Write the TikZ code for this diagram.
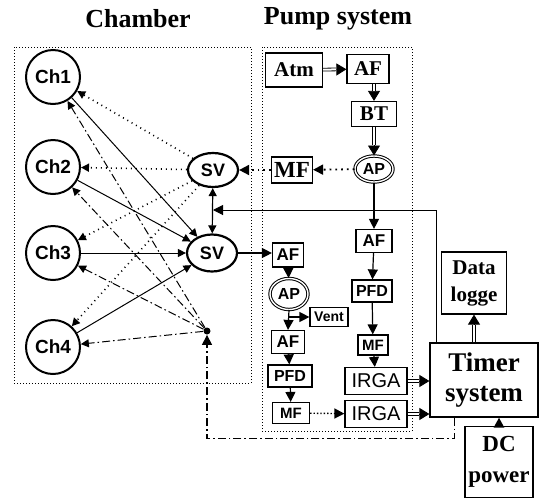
\documentclass[tikz,border=0pt]{standalone}
\usepackage{fontspec}
\setmainfont{Liberation Serif}
\setsansfont{Liberation Sans}
\usetikzlibrary{arrows.meta,shapes.geometric}

\begin{document}
\begin{tikzpicture}[x=0.5pt, y=-0.5pt, >={Triangle[length=5pt,width=5pt]},
	frame/.style={draw, densely dotted, line width=0.5pt},
	title/.style={font=\bfseries\fontsize{13}{14}\selectfont},
	chamber/.style={draw, circle, line width=1pt, minimum size=27pt, inner sep=0pt, font=\sffamily\bfseries\fontsize{9.5}{10}\selectfont},
	valve/.style={draw, ellipse, line width=1.1pt, minimum width=25pt, minimum height=17pt, inner sep=0pt, font=\sffamily\bfseries\fontsize{9}{10}\selectfont},
	pump/.style={draw, ellipse, double, double distance=0.7pt, line width=0.5pt, minimum width=18pt, minimum height=13pt, inner sep=0pt, font=\sffamily\bfseries\fontsize{8}{9}\selectfont},
	sbox/.style={draw, line width=0.6pt, inner sep=1pt, font=\sffamily\bfseries\fontsize{8.5}{9}\selectfont},
	rbox/.style={draw, line width=0.6pt, inner sep=1pt, font=\bfseries\fontsize{10.5}{11}\selectfont},
	irga/.style={draw, line width=0.6pt, inner sep=1pt, minimum width=31pt, minimum height=13.5pt, font=\sffamily\fontsize{10}{11}\selectfont},
	bigbox/.style={draw, line width=0.6pt, inner sep=1pt, align=center},
	junction/.style={circle, fill, inner sep=0pt, minimum size=3.5pt},
	flow/.style={->, line width=0.6pt},
	dbl/.style={postaction={draw, line width=0.4pt, -{Triangle[length=5pt,width=6pt]}},
		postaction={draw, double, double distance=1pt, line width=0.4pt, shorten >=5.2pt}},
	dotflow/.style={->, dotted, line width=0.9pt},
	wire/.style={->, line width=0.5pt},
	ctrl/.style={->, line width=0.6pt, dash pattern=on 4pt off 1.5pt on 0.8pt off 1.5pt},
	link/.style={-{Triangle[length=4pt,width=4pt]}, line width=0.5pt}]
	
	\useasboundingbox (0,0) rectangle (546,499);
	
	% 标题
	\node[title] (tch) at (138,19) {Chamber};
	\node[title] (tps) at (338,19) {Pump system};
	
	% 外框
	\draw[frame] (14,47) rectangle (251,383);
	\draw[frame] (262,47) rectangle (412,431);
	
	% 腔室与阀门
	\foreach \n/\y in {1/77, 2/167, 3/253, 4/347} {
		\node[chamber] (ch\n) at (53,\y) {Ch\n};
	}
	\node[valve] (sv1) at (213,170) {SV};
	\node[valve, minimum height=18.5pt] (sv2) at (212,253) {SV};
	\node[junction] (dot) at (207,331) {};
	
	% 泵系统（上）
	\node[rbox, minimum width=28.5pt, minimum height=17pt] (atm) at (294,70) {Atm};
	\node[rbox, minimum width=21pt, minimum height=14.5pt] (afA) at (368,69) {AF};
	\node[rbox, minimum width=22.5pt, minimum height=12.5pt] (bt) at (374,114) {BT};
	\node[pump, minimum width=19pt] (apA) at (374,169) {AP};
	\node[rbox, minimum width=20.5pt, minimum height=13pt, font=\bfseries\fontsize{11.5}{12}\selectfont] (mfA) at (292,170) {MF};
	
	% 泵系统（右列）
	\node[sbox, minimum width=18pt, minimum height=11.5pt] (afB) at (374,241) {AF};
	\node[sbox, minimum width=20pt, minimum height=11pt, font=\sffamily\bfseries\fontsize{8}{9}\selectfont] (pfdB) at (372,291) {PFD};
	\node[sbox, minimum width=15pt, minimum height=10pt, font=\sffamily\bfseries\fontsize{7.5}{8}\selectfont] (mfB) at (373,345) {MF};
	\node[irga] (irgaB) at (376,381) {IRGA};
	
	% 泵系统（左列）
	\node[sbox, minimum width=15.5pt, minimum height=12pt] (afC) at (288,255) {AF};
	\node[pump, minimum width=19pt, minimum height=15.5pt] (apC) at (289,294) {AP};
	\node[sbox, minimum width=19pt, minimum height=9.5pt, font=\sffamily\bfseries\fontsize{7}{8}\selectfont] (vent) at (329,317) {Vent};
	\node[sbox, minimum width=16.5pt, minimum height=11.5pt] (afD) at (288,342) {AF};
	\node[sbox, minimum width=22pt, minimum height=11pt, font=\sffamily\bfseries\fontsize{8}{9}\selectfont] (pfdC) at (290,376) {PFD};
	\node[sbox, minimum width=18.5pt, minimum height=10.5pt, font=\sffamily\bfseries\fontsize{7.5}{8}\selectfont] (mfC) at (291,413) {MF};
	\node[irga] (irgaC) at (376,414) {IRGA};
	
	% 控制与记录
	\node[bigbox, minimum width=54pt, minimum height=37pt, font=\bfseries\fontsize{13.5}{15}\selectfont] (timer) at (484,380) {Timer\\system};
	\node[bigbox, minimum width=32.5pt, minimum height=31pt, font=\bfseries\fontsize{10.5}{13.5}\selectfont] (logger) at (474,283) {Data\\logge};
	\node[bigbox, minimum width=34pt, minimum height=35.5pt, font=\bfseries\fontsize{11.5}{15.5}\selectfont] (dc) at (499,462) {DC\\power};
	
	% 腔室连线
	\foreach \n in {1,2,3,4} {
		\draw[link, dotted, line width=0.8pt] (sv1) -- (ch\n);
		\draw[link] (ch\n) -- (sv2);
		\draw[link, dash pattern=on 4pt off 1.5pt on 0.8pt off 1.5pt] (dot) -- (ch\n);
	}
	\draw[{Triangle[length=4pt,width=4pt]}-{Triangle[length=4pt,width=4pt]}, line width=0.6pt] (sv1) -- (sv2);
	\coordinate (svlink) at (213,210);
	
	% 气路
	\path[dbl] (atm) -- (afA);
	\path[dbl] (bt.north |- afA.south) -- (bt.north);
	\path[dbl] (bt) -- (apA);
	\draw[dotflow] (apA) -- (mfA);
	\draw[dotflow] (mfA) -- (sv1);
	\draw[flow] (apA) -- (afB);
	\foreach \a/\b in {afB/pfdB, pfdB/mfB, mfB/irgaB, afC/apC, afD/pfdC, pfdC/mfC} {
		\draw[flow] (\a) -- (\b);
	}
	\draw[flow] (sv2.east) -- (sv2.east -| afC.west);
	\draw[flow] (apC.south) -- (afD.north);
	\draw[flow] (apC.south |- vent.west) -- (vent.west);
	\draw[->, densely dotted, line width=0.7pt] (mfC) -- (irgaC);
	\path[dbl] (irgaB.east) -- (irgaB.east -| timer.west);
	\path[dbl] (irgaC.east) -- (irgaC.east -| timer.west);
	
	% 信号线
	\path[dbl] (logger.south |- timer.north) -- (logger.south);
	\draw[->, line width=1.2pt] (dc.north) -- (dc.north |- timer.south);
	\draw[wire] ([xshift=3.5pt]timer.north west) |- (svlink);
	\draw[ctrl] ([xshift=12.5pt]timer.south west) -- ++(0,21) -| (dot);
\end{tikzpicture}
\end{document}
